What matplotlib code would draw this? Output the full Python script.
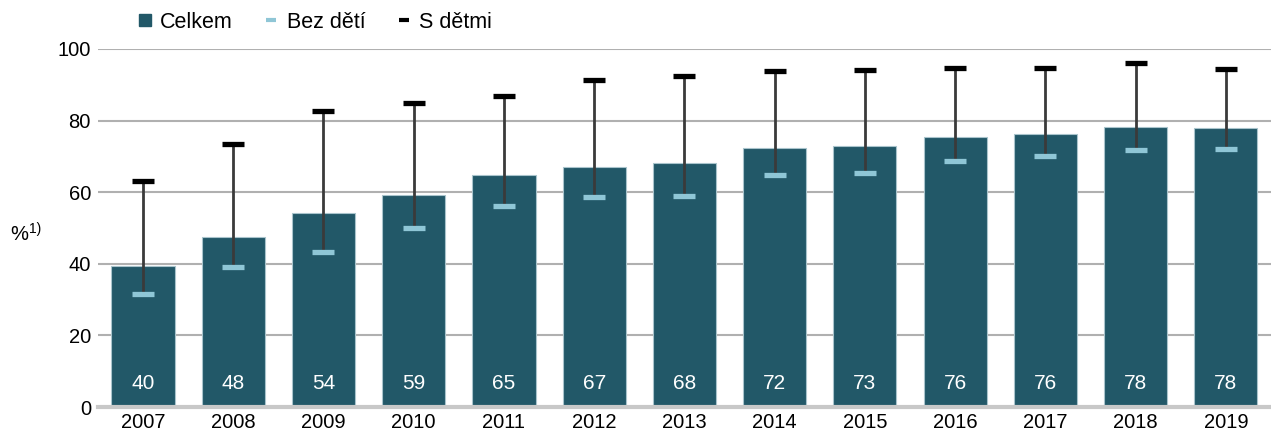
import numpy as np
import matplotlib.pyplot as plt
from matplotlib.lines import Line2D

plt.rcParams['font.family'] = ['Liberation Sans', 'DejaVu Sans']

years = ['2007', '2008', '2009', '2010', '2011', '2012', '2013',
         '2014', '2015', '2016', '2017', '2018', '2019']
celkem = [39.4, 47.5, 54.2, 59.2, 64.8, 67.0, 68.2, 72.3, 72.9, 75.4, 76.3, 78.2, 77.9]
celkem_lbl = [40, 48, 54, 59, 65, 67, 68, 72, 73, 76, 76, 78, 78]
bez_deti = [31.6, 39.1, 43.3, 50.0, 56.1, 58.7, 58.9, 64.8, 65.4, 68.7, 70.1, 71.8, 72.1]
s_detmi = [63.1, 73.5, 82.7, 84.9, 86.9, 91.3, 92.5, 93.9, 94.1, 94.7, 94.7, 96.1, 94.4]

bar_col = '#225868'
light_col = '#8fc6d6'

fig = plt.figure(figsize=(12.71, 4.41), dpi=100)
ax = fig.add_axes([0.077, 0.077, 0.923, 0.812])

x = np.arange(len(years))
ax.bar(x, celkem, width=0.7, color=bar_col, edgecolor='#a9c4cc', linewidth=0.8, zorder=2)
ax.vlines(x, bez_deti, s_detmi, color='#3a3a3a', linewidth=2, zorder=3)
ax.plot(x, s_detmi, linestyle='none', marker='_', markersize=16, markeredgewidth=3.8,
        color='black', zorder=4)
ax.plot(x, bez_deti, linestyle='none', marker='_', markersize=16, markeredgewidth=3.8,
        color=light_col, zorder=4)

for xi, v in zip(x, celkem_lbl):
    ax.text(xi, 6.7, str(v), ha='center', va='center', color='white', fontsize=15, zorder=5)

ax.set_ylim(0, 100)
ax.set_xlim(-0.5, len(years) - 0.5)
ax.set_yticks(range(0, 101, 20))
ax.set_xticks(x)
ax.set_xticklabels(years)
ax.tick_params(axis='both', labelsize=14.5, length=0, colors='black')
ax.tick_params(axis='y', pad=5)
ax.tick_params(axis='x', pad=4)
ax.grid(axis='y', color='#b0b0b0', linewidth=1.5, zorder=0)
ax.set_axisbelow(True)
for s in ['top', 'right', 'left']:
    ax.spines[s].set_visible(False)
ax.spines['bottom'].set_color('#c8c8c8')
ax.spines['bottom'].set_linewidth(3)

fig.text(0.008, 0.468, '%', fontsize=14.5, ha='left', va='center')
fig.text(0.023, 0.48, '1)', fontsize=10, ha='left', va='center')

handles = [
    Line2D([], [], linestyle='none', marker='s', markersize=8, color=bar_col),
    Line2D([], [], linestyle='none', marker='_', markersize=7.5, markeredgewidth=3, color=light_col),
    Line2D([], [], linestyle='none', marker='_', markersize=7.5, markeredgewidth=3, color='black'),
]
fig.legend(handles, ['Celkem', 'Bez dětí', 'S dětmi'], loc='center left',
           bbox_to_anchor=(0.092, 0.950), ncol=3, frameon=False, fontsize=15.5,
           handletextpad=0.3, columnspacing=1.4, handlelength=0.8)

fig.savefig('out.png', dpi=100)
